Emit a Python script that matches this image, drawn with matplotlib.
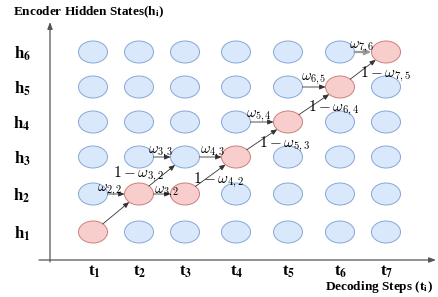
import numpy as np
import matplotlib.pyplot as plt
from matplotlib.patches import Ellipse

# grid of decoder steps (columns) and encoder states (rows)
steps = ['1', '2', '3', '4', '5', '6', '7']
states = ['1', '2', '3', '4', '5', '6']
col_x = [93, 139, 185, 236, 288, 340, 386]
row_y = [232, 194, 157, 122, 87, 52]

# selected (red) state for each decoding step, as row index
path = [0, 1, 1, 2, 3, 4, 5]

# horizontal transitions: (from col, row, label)
stay = [(0, 1, r'$\omega_{2,2}$'), (1, 1, r'$\omega_{3,2}$'), (1, 2, r'$\omega_{3,3}$'),
        (2, 2, r'$\omega_{4,3}$'), (3, 3, r'$\omega_{5,4}$'), (4, 4, r'$\omega_{6,5}$'),
        (5, 5, r'$\omega_{7,6}$')]
# diagonal transitions: (from col, from row, label)
move = [(0, 0, None), (1, 1, r'$1-\omega_{3,2}$'), (2, 1, r'$1-\omega_{4,2}$'),
        (3, 2, r'$1-\omega_{5,3}$'), (4, 3, r'$1-\omega_{6,4}$'), (5, 4, r'$1-\omega_{7,5}$')]

stay_pos = [(110, 190), (167, 192), (161, 152), (213, 152), (259, 116), (314, 79), (362, 47)]
move_pos = [None, (139, 174), (219, 180), (285, 144), (334, 108), (386, 74)]

W, H = 29, 22
blue_face, blue_edge = '#dae8fc', '#86a6d6'
red_face, red_edge = '#f8cecc', '#cc7f7d'

fig = plt.figure(figsize=(4.39, 2.97), dpi=100)
ax = fig.add_axes([0, 0, 1, 1])
ax.set_xlim(0, 439)
ax.set_ylim(297, 0)
ax.axis('off')

for i, x in enumerate(col_x):
    for j, y in enumerate(row_y):
        red = path[i] == j
        ax.add_patch(Ellipse((x, y), W, H, facecolor=red_face if red else blue_face,
                             edgecolor=red_edge if red else blue_edge, lw=0.7, zorder=2))


def edge(c, d):
    t = 1.0 / np.sqrt((d[0] / (W / 2)) ** 2 + (d[1] / (H / 2)) ** 2)
    return c[0] + d[0] * t, c[1] + d[1] * t


def arrow(p0, p1, lw=0.6, color='#333333'):
    ax.annotate('', xy=p1, xytext=p0,
                arrowprops=dict(arrowstyle='-|>,head_length=0.35,head_width=0.15',
                                lw=lw, color=color, shrinkA=0, shrinkB=0), zorder=3)


for k, (i, j, lab) in enumerate(stay):
    y = row_y[j]
    p0 = (col_x[i] + W / 2, y)
    p1 = (col_x[i + 1] - W / 2, y)
    if i == 5:
        arrow(p0, p1, lw=1.6, color='#999999')
    else:
        arrow(p0, p1)
    ax.text(*stay_pos[k], lab, math_fontfamily='cm', fontsize=10.5,
            ha='center', va='center', zorder=4)

for k, (i, j, lab) in enumerate(move):
    c0 = (col_x[i], row_y[j])
    c1 = (col_x[i + 1], row_y[j + 1])
    d = (c1[0] - c0[0], c1[1] - c0[1])
    arrow(edge(c0, d), edge(c1, (-d[0], -d[1])))
    if lab:
        ax.text(*move_pos[k], lab, math_fontfamily='cm', fontsize=11,
                ha='center', va='center', zorder=4)

# axes
ax.annotate('', xy=(50, 22), xytext=(50, 262),
            arrowprops=dict(arrowstyle='-|>,head_length=0.4,head_width=0.15',
                            lw=0.9, color='#555555', shrinkA=0, shrinkB=0))
ax.annotate('', xy=(436, 260), xytext=(39, 260),
            arrowprops=dict(arrowstyle='-|>,head_length=0.4,head_width=0.15',
                            lw=0.9, color='#555555', shrinkA=0, shrinkB=0))

lab_font = dict(family='Liberation Serif', fontweight='bold', math_fontfamily='stix')
for j, s in enumerate(states):
    ax.text(22, row_y[j] + 2, r'h$_{\mathbf{%s}}$' % s, fontsize=12,
            ha='center', va='center', **lab_font)
for i, s in enumerate(steps):
    ax.text(col_x[i] + 1, 272, r't$_{\mathbf{%s}}$' % s, fontsize=12,
            ha='center', va='center', **lab_font)

ax.text(13, 12, r'Encoder Hidden States(h$_{\mathbf{i}}$)', fontsize=9.5,
        ha='left', va='center', **lab_font)
ax.text(433, 287, r'Decoding Steps (t$_{\mathbf{i}}$)', fontsize=9.5,
        ha='right', va='center', **lab_font)

fig.savefig('out.png', dpi=100)
